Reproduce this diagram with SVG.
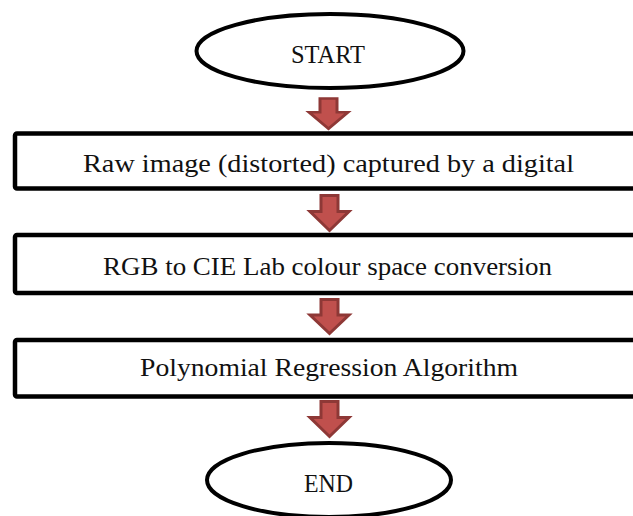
<svg xmlns="http://www.w3.org/2000/svg" width="633" height="516" viewBox="0 0 633 516">
  <defs>
    <style>
      .term { fill: #ffffff; stroke: #000000; stroke-width: 4; }
      .step { fill: #ffffff; stroke: #000000; stroke-width: 4.5; }
      .label { font-family: "Liberation Serif", "DejaVu Serif", serif; font-size: 26px; fill: #111111; text-anchor: middle; }
      .flow { fill: #c0504d; stroke: #8e3836; stroke-width: 3; stroke-linejoin: miter; }
    </style>
    <!-- block arrow pointing down, origin at top centre of the shaft -->
    <path id="down" d="M -8.5 0 H 8.5 V 16 H 19.5 L 0 35 L -19.5 16 H -8.5 Z"/>
  </defs>

  <rect width="633" height="516" fill="#ffffff"/>

  <g id="start">
    <ellipse class="term" cx="330" cy="51" rx="133.5" ry="37"/>
    <text class="label" x="328" y="62.5" textLength="74" lengthAdjust="spacingAndGlyphs">START</text>
  </g>

  <g id="capture">
    <rect class="step" x="15" y="133.5" width="640" height="55" rx="2"/>
    <text class="label" x="328.5" y="171.5" textLength="491" lengthAdjust="spacingAndGlyphs">Raw image (distorted) captured by a digital</text>
  </g>

  <g id="convert">
    <rect class="step" x="15" y="235" width="640" height="58" rx="2"/>
    <text class="label" x="327.5" y="274.5" textLength="449" lengthAdjust="spacingAndGlyphs">RGB to CIE Lab colour space conversion</text>
  </g>

  <g id="regression">
    <rect class="step" x="15" y="340" width="640" height="56.5" rx="2"/>
    <text class="label" x="329" y="376" textLength="378" lengthAdjust="spacingAndGlyphs">Polynomial Regression Algorithm</text>
  </g>

  <g id="end">
    <ellipse class="term" cx="329" cy="480" rx="122" ry="37"/>
    <text class="label" x="328.5" y="491.5" textLength="49" lengthAdjust="spacingAndGlyphs">END</text>
  </g>

  <g id="connectors">
    <use href="#down" class="flow" transform="translate(328.5 98.5) scale(1 0.86)"/>
    <use href="#down" class="flow" transform="translate(329.5 195.5) scale(1 1)"/>
    <use href="#down" class="flow" transform="translate(329.5 299.5) scale(1 0.97)"/>
    <use href="#down" class="flow" transform="translate(329.5 401.5) scale(1 1)"/>
  </g>
</svg>
